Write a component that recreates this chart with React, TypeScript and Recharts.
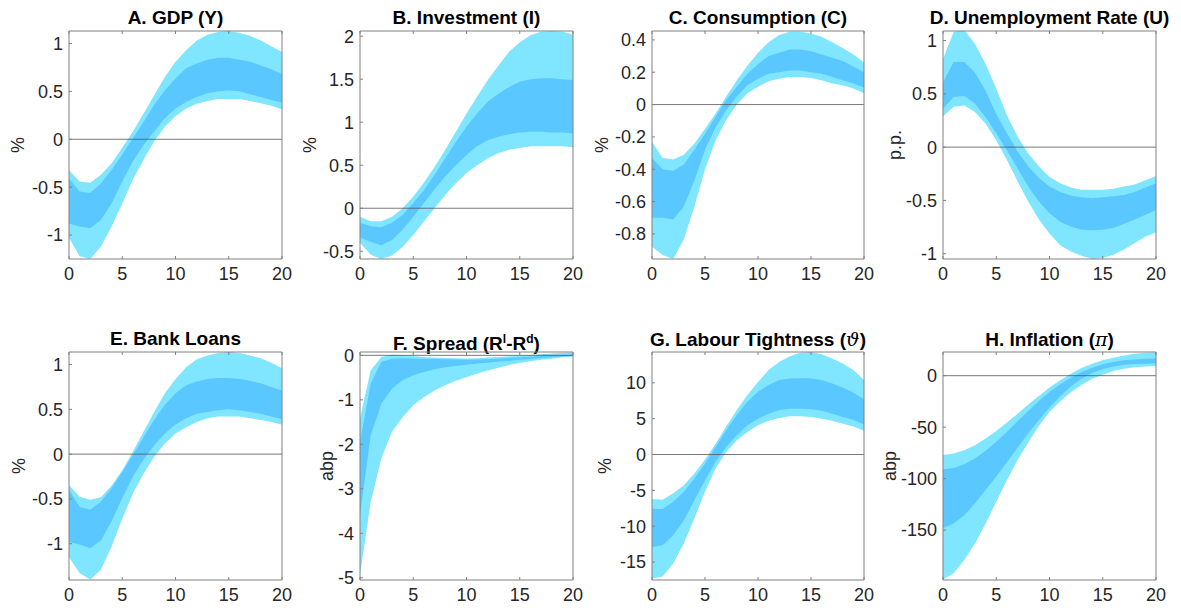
import React from "react";
import { ComposedChart, Area, XAxis, YAxis, ReferenceLine } from "recharts";

// quarters after the shock
const HORIZON = [0, 1, 2, 3, 4, 5, 6, 7, 8, 9, 10, 11, 12, 13, 14, 15, 16, 17, 18, 19, 20];
const X_TICKS = [0, 5, 10, 15, 20];

// A. GDP
const gdpOuterHi = [-0.32, -0.44, -0.455, -0.37, -0.25, -0.09, 0.08, 0.27, 0.46, 0.65, 0.81, 0.93, 1.03, 1.09, 1.12, 1.13, 1.11, 1.08, 1.03, 0.97, 0.91];
const gdpInnerHi = [-0.41, -0.545, -0.56, -0.46, -0.32, -0.16, 0.01, 0.18, 0.36, 0.51, 0.635, 0.74, 0.79, 0.83, 0.85, 0.85, 0.83, 0.81, 0.77, 0.73, 0.68];
const gdpInnerLo = [-0.88, -0.91, -0.93, -0.84, -0.67, -0.44, -0.23, -0.06, 0.08, 0.22, 0.32, 0.39, 0.44, 0.48, 0.5, 0.51, 0.5, 0.47, 0.44, 0.41, 0.38];
const gdpOuterLo = [-1.03, -1.22, -1.25, -1.12, -0.91, -0.67, -0.42, -0.215, -0.02, 0.13, 0.24, 0.32, 0.37, 0.4, 0.42, 0.42, 0.42, 0.4, 0.375, 0.35, 0.31];

// B. Investment
const invOuterHi = [-0.1, -0.15, -0.15, -0.1, 0.0, 0.135, 0.3, 0.48, 0.68, 0.89, 1.1, 1.3, 1.49, 1.66, 1.82, 1.93, 2.01, 2.05, 2.06, 2.05, 2.02];
const invInnerHi = [-0.17, -0.21, -0.22, -0.17, -0.08, 0.06, 0.21, 0.39, 0.58, 0.77, 0.95, 1.1, 1.24, 1.33, 1.41, 1.47, 1.5, 1.51, 1.51, 1.5, 1.49];
const invInnerLo = [-0.34, -0.39, -0.43, -0.37, -0.25, -0.1, 0.06, 0.22, 0.37, 0.5, 0.62, 0.72, 0.79, 0.83, 0.86, 0.88, 0.89, 0.89, 0.88, 0.88, 0.87];
const invOuterLo = [-0.4, -0.54, -0.59, -0.55, -0.45, -0.31, -0.155, 0.0, 0.155, 0.29, 0.41, 0.5, 0.58, 0.64, 0.68, 0.7, 0.72, 0.72, 0.72, 0.72, 0.71];

// C. Consumption
const conOuterHi = [-0.23, -0.33, -0.34, -0.31, -0.24, -0.15, -0.055, 0.05, 0.15, 0.24, 0.32, 0.385, 0.43, 0.45, 0.45, 0.44, 0.42, 0.385, 0.35, 0.31, 0.26];
const conInnerHi = [-0.33, -0.4, -0.41, -0.37, -0.28, -0.18, -0.075, 0.03, 0.11, 0.19, 0.25, 0.3, 0.32, 0.34, 0.34, 0.33, 0.31, 0.29, 0.27, 0.235, 0.2];
const conInnerLo = [-0.7, -0.7, -0.71, -0.63, -0.47, -0.28, -0.14, -0.035, 0.05, 0.12, 0.16, 0.19, 0.2, 0.21, 0.21, 0.2, 0.19, 0.17, 0.15, 0.13, 0.105];
const conOuterLo = [-0.88, -0.93, -0.955, -0.835, -0.63, -0.4, -0.22, -0.095, 0.0, 0.07, 0.11, 0.145, 0.16, 0.17, 0.17, 0.165, 0.15, 0.13, 0.12, 0.1, 0.07];

// D. Unemployment rate
const unOuterHi = [0.83, 1.08, 1.1, 0.97, 0.78, 0.55, 0.3, 0.1, -0.06, -0.18, -0.28, -0.34, -0.38, -0.4, -0.4, -0.4, -0.39, -0.37, -0.35, -0.31, -0.27];
const unInnerHi = [0.61, 0.8, 0.8, 0.7, 0.53, 0.31, 0.13, -0.04, -0.18, -0.29, -0.37, -0.42, -0.455, -0.47, -0.48, -0.47, -0.46, -0.45, -0.42, -0.38, -0.34];
const unInnerLo = [0.36, 0.47, 0.48, 0.41, 0.28, 0.13, -0.03, -0.2, -0.37, -0.51, -0.62, -0.7, -0.745, -0.775, -0.78, -0.775, -0.76, -0.72, -0.68, -0.635, -0.59];
const unOuterLo = [0.29, 0.38, 0.39, 0.33, 0.22, 0.065, -0.12, -0.32, -0.51, -0.68, -0.81, -0.92, -0.98, -1.02, -1.05, -1.04, -1.01, -0.96, -0.9, -0.84, -0.8];

// E. Bank loans
const loanOuterHi = [-0.345, -0.476, -0.51, -0.48, -0.35, -0.18, 0.03, 0.25, 0.47, 0.68, 0.84, 0.97, 1.06, 1.1, 1.13, 1.14, 1.13, 1.1, 1.07, 1.02, 0.96];
const loanInnerHi = [-0.4, -0.59, -0.62, -0.53, -0.38, -0.2, -0.01, 0.19, 0.38, 0.55, 0.68, 0.77, 0.81, 0.84, 0.85, 0.85, 0.84, 0.82, 0.79, 0.75, 0.71];
const loanInnerLo = [-0.98, -1.01, -1.05, -0.96, -0.75, -0.49, -0.25, -0.06, 0.1, 0.23, 0.33, 0.4, 0.45, 0.47, 0.49, 0.5, 0.49, 0.47, 0.45, 0.42, 0.39];
const loanOuterLo = [-1.15, -1.33, -1.4, -1.29, -1.03, -0.72, -0.44, -0.22, -0.03, 0.12, 0.23, 0.3, 0.36, 0.4, 0.42, 0.42, 0.42, 0.4, 0.38, 0.36, 0.33];

// F. Spread
const sprOuterHi = [-1.42, -0.34, -0.04, 0.015, 0.0, -0.015, -0.04, -0.05, -0.06, -0.065, -0.07, -0.065, -0.05, -0.035, -0.02, -0.005, 0.01, 0.025, 0.04, 0.055, 0.07];
const sprInnerHi = [-1.95, -0.64, -0.15, -0.075, -0.065, -0.07, -0.08, -0.085, -0.09, -0.095, -0.1, -0.095, -0.09, -0.075, -0.06, -0.045, -0.03, -0.015, 0.0, 0.01, 0.02];
const sprInnerLo = [-3.6, -1.8, -1.09, -0.75, -0.56, -0.45, -0.375, -0.31, -0.27, -0.24, -0.21, -0.185, -0.165, -0.14, -0.12, -0.1, -0.08, -0.06, -0.045, -0.03, -0.015];
const sprOuterLo = [-4.94, -3.3, -2.32, -1.72, -1.39, -1.12, -0.94, -0.79, -0.67, -0.57, -0.49, -0.41, -0.34, -0.28, -0.22, -0.175, -0.135, -0.1, -0.075, -0.045, -0.02];

// G. Labour tightness
const labOuterHi = [-6.2, -6.3, -5.4, -4.3, -2.65, -0.7, 1.5, 3.9, 6.2, 8.3, 10.1, 11.8, 12.9, 13.7, 14.2, 14.3, 14.0, 13.4, 12.7, 11.8, 10.4];
const labInnerHi = [-7.6, -7.6, -6.6, -5.2, -3.35, -1.25, 1.05, 3.4, 5.5, 7.35, 8.75, 9.7, 10.4, 10.6, 10.65, 10.6, 10.4, 9.9, 9.35, 8.6, 7.7];
const labInnerLo = [-12.9, -12.65, -11.25, -9.2, -6.4, -3.6, -1.0, 1.05, 2.7, 4.1, 5.0, 5.7, 6.2, 6.4, 6.4, 6.3, 6.1, 5.7, 5.25, 4.8, 4.2];
const labOuterLo = [-17.3, -17.0, -15.2, -12.4, -8.9, -5.2, -1.95, 0.37, 2.0, 3.15, 4.1, 4.7, 5.1, 5.35, 5.35, 5.25, 5.0, 4.7, 4.3, 3.9, 3.3];

// H. Inflation
const infOuterHi = [-77, -75.6, -72.4, -67.6, -61, -53.7, -45.6, -36.9, -28.1, -19.7, -11.6, -4.5, 1.9, 7.4, 11.6, 14.9, 17.5, 19.7, 21.3, 22.3, 22.6];
const infInnerHi = [-91, -89.6, -86, -80.5, -73, -64.3, -54.6, -44.3, -34.3, -24.6, -15.8, -8.4, -1.9, 3.6, 7.8, 11, 13.3, 14.9, 15.8, 16.5, 16.8];
const infInnerLo = [-148, -143.5, -135.5, -124, -111, -98, -84, -70, -56, -43, -31, -20, -10.5, -3, 2.5, 6.5, 9, 10.5, 11.3, 11.7, 12];
const infOuterLo = [-198, -192, -179, -163, -143.5, -122.5, -101.5, -82, -65, -49, -35, -25, -16, -9, -3, 1, 4.5, 6.8, 8.2, 9, 9.4];

const LIGHT = "#80e5ff";
const DARK = "#5ac8ff";
const AXIS = "#808080";
const TEXT = "#262626";
const FONT = "'Liberation Sans', Arial, Helvetica, sans-serif";
const LEFT_W = 80; // room for tick labels and the unit label

function rows(outerLo: number[], innerLo: number[], innerHi: number[], outerHi: number[]) {
  return HORIZON.map((x, i) => ({
    x,
    outer: [outerLo[i], outerHi[i]],
    inner: [innerLo[i], innerHi[i]],
  }));
}

type Panel = {
  title: React.ReactNode;
  unit: string;
  box: [number, number, number, number]; // left, top, right, bottom of plot area
  labelX: number;
  domain: [number, number];
  ticks: number[];
  data: ReturnType<typeof rows>;
};

const TOP1 = 31;
const BOT1 = 259;
const TOP2 = 352;
const BOT2 = 580;
const COLS: [number, number][] = [
  [69, 282],
  [360, 573],
  [652, 864],
  [943, 1156],
];

const serifItalic = { fontFamily: "'DejaVu Serif', serif", fontWeight: 400 };

const panels: Panel[] = [
  {
    title: "A. GDP (Y)",
    unit: "%",
    box: [COLS[0][0], TOP1, COLS[0][1], BOT1],
    labelX: 18,
    domain: [-1.25, 1.13],
    ticks: [-1, -0.5, 0, 0.5, 1],
    data: rows(gdpOuterLo, gdpInnerLo, gdpInnerHi, gdpOuterHi),
  },
  {
    title: "B. Investment (I)",
    unit: "%",
    box: [COLS[1][0], TOP1, COLS[1][1], BOT1],
    labelX: 310,
    domain: [-0.59, 2.06],
    ticks: [-0.5, 0, 0.5, 1, 1.5, 2],
    data: rows(invOuterLo, invInnerLo, invInnerHi, invOuterHi),
  },
  {
    title: "C. Consumption (C)",
    unit: "%",
    box: [COLS[2][0], TOP1, COLS[2][1], BOT1],
    labelX: 602,
    domain: [-0.955, 0.455],
    ticks: [-0.8, -0.6, -0.4, -0.2, 0, 0.2, 0.4],
    data: rows(conOuterLo, conInnerLo, conInnerHi, conOuterHi),
  },
  {
    title: "D. Unemployment Rate (U)",
    unit: "p.p.",
    box: [COLS[3][0], TOP1, COLS[3][1], BOT1],
    labelX: 895,
    domain: [-1.05, 1.09],
    ticks: [-1, -0.5, 0, 0.5, 1],
    data: rows(unOuterLo, unInnerLo, unInnerHi, unOuterHi),
  },
  {
    title: "E. Bank Loans",
    unit: "%",
    box: [COLS[0][0], TOP2, COLS[0][1], BOT2],
    labelX: 19,
    domain: [-1.405, 1.14],
    ticks: [-1, -0.5, 0, 0.5, 1],
    data: rows(loanOuterLo, loanInnerLo, loanInnerHi, loanOuterHi),
  },
  {
    title: (
      <>
        F. Spread (R<sup style={{ fontSize: 12 }}>l</sup>-R<sup style={{ fontSize: 12 }}>d</sup>)
      </>
    ),
    unit: "abp",
    box: [COLS[1][0], TOP2, COLS[1][1], BOT2],
    labelX: 327,
    domain: [-5.05, 0.075],
    ticks: [-5, -4, -3, -2, -1, 0],
    data: rows(sprOuterLo, sprInnerLo, sprInnerHi, sprOuterHi),
  },
  {
    title: (
      <>
        G. Labour Tightness (<i style={serifItalic}>ϑ</i>)
      </>
    ),
    unit: "%",
    box: [COLS[2][0], TOP2, COLS[2][1], BOT2],
    labelX: 605,
    domain: [-17.5, 14.3],
    ticks: [-15, -10, -5, 0, 5, 10],
    data: rows(labOuterLo, labInnerLo, labInnerHi, labOuterHi),
  },
  {
    title: (
      <>
        H. Inflation (<i style={serifItalic}>π</i>)
      </>
    ),
    unit: "abp",
    box: [COLS[3][0], TOP2, COLS[3][1], BOT2],
    labelX: 890,
    domain: [-198.5, 23],
    ticks: [-150, -100, -50, 0],
    data: rows(infOuterLo, infInnerLo, infInnerHi, infOuterHi),
  },
];

const tickStyle = { fontSize: 18, fill: TEXT, fontFamily: FONT };

function BandPanel({ p }: { p: Panel }) {
  const [l, t, r, b] = p.box;
  const w = r - l + LEFT_W + 10;
  const h = b - t + 60;
  return (
    <>
      <div
        style={{
          position: "absolute",
          left: l - 60,
          top: t - 22,
          width: r - l + 120,
          textAlign: "center",
          fontSize: 19,
          lineHeight: "18px",
          fontWeight: 700,
          color: "#000",
          fontFamily: FONT,
          whiteSpace: "nowrap",
        }}
      >
        {p.title}
      </div>
      <div style={{ position: "absolute", left: l - LEFT_W, top: t - 30 }}>
        <ComposedChart
          width={w}
          height={h}
          data={p.data}
          margin={{ top: 0, right: 0, bottom: 0, left: 0 }}
          style={{ fontFamily: FONT }}
        >
          <XAxis
            dataKey="x"
            type="number"
            domain={[0, 20]}
            ticks={X_TICKS}
            interval={0}
            height={30}
            allowDataOverflow
            stroke={AXIS}
            tickSize={-3}
            tickMargin={11}
            tick={tickStyle}
          />
          <XAxis
            xAxisId="top"
            orientation="top"
            dataKey="x"
            type="number"
            domain={[0, 20]}
            ticks={X_TICKS}
            interval={0}
            height={30}
            stroke={AXIS}
            tickSize={-3}
            tick={() => null}
          />
          <YAxis
            type="number"
            domain={p.domain}
            ticks={p.ticks}
            interval={0}
            width={LEFT_W}
            allowDataOverflow
            stroke={AXIS}
            tickSize={-3}
            tickMargin={9}
            tick={tickStyle}
            label={{
              value: p.unit,
              angle: -90,
              position: "center",
              dx: p.labelX - l + LEFT_W / 2,
              style: { fontSize: 18, fill: TEXT, fontFamily: FONT },
            }}
          />
          <YAxis
            yAxisId="right"
            orientation="right"
            type="number"
            domain={p.domain}
            ticks={p.ticks}
            interval={0}
            width={10}
            stroke={AXIS}
            tickSize={-3}
            tick={() => null}
          />
          <Area
            dataKey="outer"
            type="linear"
            stroke="none"
            fill={LIGHT}
            fillOpacity={1}
            isAnimationActive={false}
            activeDot={false}
          />
          <Area
            dataKey="inner"
            type="linear"
            stroke="none"
            fill={DARK}
            fillOpacity={1}
            isAnimationActive={false}
            activeDot={false}
          />
          <ReferenceLine y={0} stroke="#555" strokeWidth={0.8} />
        </ComposedChart>
      </div>
    </>
  );
}

export default function App() {
  return (
    <div style={{ position: "absolute", left: 0, top: 0, width: 1181, height: 611, background: "#fff" }}>
      {panels.map((p, i) => (
        <BandPanel key={i} p={p} />
      ))}
    </div>
  );
}
